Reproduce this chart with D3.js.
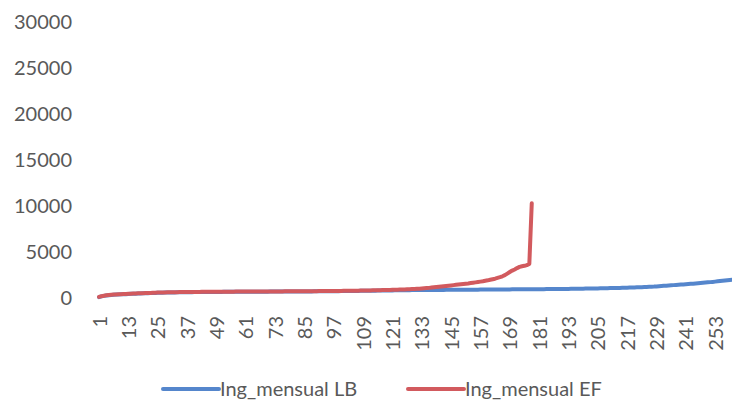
<!DOCTYPE html>
<html>
<head>
<meta charset="utf-8">
<script src="https://cdn.jsdelivr.net/npm/d3@7/dist/d3.min.js"></script>
<style>
  html, body { margin: 0; padding: 0; background: #ffffff; }
  svg { display: block; }
  text { font-family: Lato, "Open Sans", sans-serif; fill: #595959; }
</style>
</head>
<body>
<svg id="chart" width="732" height="406"></svg>
<script>
// Monthly income, sorted ascending, for the two groups
const seriesNames = ["Ing_mensual LB", "Ing_mensual EF"];

const ingresoLB = [
  100, 180, 230, 270, 300, 330, 350, 370, 390, 400, 410, 420,
  435, 450, 460, 475, 485, 495, 505, 515, 525, 535, 545, 555,
  565, 575, 580, 590, 595, 600, 605, 610, 615, 620, 625, 630,
  632, 635, 638, 640, 642, 645, 647, 650, 652, 655, 657, 660,
  660, 662, 664, 666, 668, 670, 670, 672, 674, 675, 677, 678,
  680, 680, 682, 684, 685, 686, 688, 690, 690, 692, 694, 695,
  696, 698, 700, 700, 702, 704, 705, 706, 708, 710, 710, 712,
  714, 715, 717, 720, 722, 724, 726, 728, 730, 732, 735, 738,
  740, 743, 746, 750, 753, 756, 760, 763, 766, 770, 773, 776,
  780, 784, 788, 792, 796, 800, 804, 808, 812, 816, 820, 824,
  828, 832, 836, 840, 844, 848, 850, 853, 856, 858, 860, 862,
  864, 866, 868, 870, 872, 874, 876, 878, 880, 882, 884, 886,
  888, 890, 892, 894, 896, 898, 900, 902, 904, 906, 908, 910,
  912, 914, 916, 918, 920, 922, 924, 926, 928, 930, 932, 934,
  936, 938, 940, 942, 944, 946, 948, 950, 952, 954, 956, 958,
  960, 962, 964, 966, 968, 970, 972, 975, 978, 980, 983, 986,
  990, 994, 998, 1002, 1006, 1010, 1015, 1020, 1025, 1030, 1035, 1040,
  1045, 1050, 1056, 1062, 1068, 1074, 1080, 1087, 1094, 1100, 1108, 1116,
  1124, 1132, 1140, 1150, 1160, 1170, 1180, 1192, 1204, 1216, 1228, 1240,
  1260, 1280, 1300, 1320, 1340, 1360, 1380, 1400, 1420, 1440, 1460, 1480,
  1500, 1520, 1540, 1560, 1580, 1600, 1625, 1650, 1675, 1700, 1725, 1750,
  1780, 1810, 1840, 1870, 1900, 1930, 1960, 1990
];

const ingresoEF = [
  120, 200, 250, 290, 320, 350, 370, 390, 410, 420, 430, 440,
  455, 470, 480, 495, 505, 515, 525, 535, 545, 555, 565, 575,
  585, 595, 600, 610, 615, 620, 625, 630, 635, 640, 645, 650,
  652, 655, 658, 660, 662, 665, 667, 670, 672, 675, 677, 680,
  680, 682, 684, 686, 688, 690, 690, 692, 694, 695, 697, 698,
  700, 700, 702, 704, 705, 706, 708, 710, 710, 712, 714, 715,
  716, 718, 720, 720, 722, 724, 725, 726, 728, 730, 730, 732,
  734, 735, 737, 740, 742, 745, 748, 750, 752, 755, 758, 760,
  763, 766, 770, 773, 776, 780, 784, 788, 792, 796, 800, 805,
  810, 815, 820, 826, 832, 838, 845, 850, 858, 865, 872, 880,
  888, 896, 905, 914, 924, 934, 945, 956, 968, 980, 995, 1010,
  1030, 1050, 1075, 1100, 1130, 1160, 1190, 1220, 1250, 1280, 1310, 1340,
  1370, 1400, 1430, 1460, 1490, 1520, 1550, 1580, 1620, 1660, 1700, 1740,
  1780, 1820, 1870, 1920, 1980, 2040, 2100, 2180, 2260, 2360, 2480, 2650,
  2820, 2980, 3100, 3250, 3380, 3450, 3500, 3580, 3700, 10300
];

const yTicks = [0, 5000, 10000, 15000, 20000, 25000, 30000];
const xTickLabels = [1, 13, 25, 37, 49, 61, 73, 85, 97, 109, 121, 133, 145, 157, 169, 181, 193, 205, 217, 229, 241, 253];
const seriesColors = ["#5586cc", "#d25a5e"];

const svg = d3.select("#chart");

const categories = d3.range(1, ingresoLB.length + 1);

const x = d3.scalePoint()
  .domain(categories)
  .range([99, 99 + (categories.length - 1) * 2.445]);

const y = d3.scaleLinear()
  .domain([0, 30000])
  .range([298, 22]);

// Value axis labels (no axis line, no gridlines)
const yAxis = d3.axisLeft(y)
  .tickValues(yTicks)
  .tickSize(0)
  .tickPadding(0)
  .tickFormat(d3.format("d"));

svg.append("g")
  .attr("transform", "translate(72,0)")
  .call(yAxis)
  .call(g => g.select(".domain").remove())
  .call(g => g.selectAll("text")
    .attr("font-family", "Lato, 'Open Sans', sans-serif")
    .attr("font-size", 20)
    .attr("fill", "#595959"));

// Category axis labels, rotated
const xAxis = d3.axisBottom(x)
  .tickValues(xTickLabels)
  .tickSize(0)
  .tickPadding(0);

svg.append("g")
  .attr("transform", "translate(0,316)")
  .call(xAxis)
  .call(g => g.select(".domain").remove())
  .call(g => g.selectAll("text")
    .attr("font-family", "Lato, 'Open Sans', sans-serif")
    .attr("font-size", 20)
    .attr("fill", "#595959")
    .attr("text-anchor", "end")
    .attr("dy", "0.35em")
    .attr("y", 0)
    .attr("x", 0)
    .attr("transform", "rotate(-90)"));

// Series lines
const line = d3.line()
  .x((d, i) => x(i + 1))
  .y(d => y(d));

[ingresoLB, ingresoEF].forEach((vals, k) => {
  svg.append("path")
    .datum(vals)
    .attr("d", line)
    .attr("fill", "none")
    .attr("stroke", seriesColors[k])
    .attr("stroke-width", 4)
    .attr("stroke-linejoin", "round")
    .attr("stroke-linecap", "round");
});

// Legend
const legendItems = [
  { name: seriesNames[0], color: seriesColors[0], x0: 163 },
  { name: seriesNames[1], color: seriesColors[1], x0: 408 }
];

const legend = svg.append("g");
legendItems.forEach(it => {
  legend.append("line")
    .attr("x1", it.x0).attr("x2", it.x0 + 56)
    .attr("y1", 389).attr("y2", 389)
    .attr("stroke", it.color)
    .attr("stroke-width", 4)
    .attr("stroke-linecap", "round");
  legend.append("text")
    .attr("x", it.x0 + 57)
    .attr("y", 389)
    .attr("dy", "0.35em")
    .attr("font-size", 20)
    .text(it.name);
});
</script>
</body>
</html>
